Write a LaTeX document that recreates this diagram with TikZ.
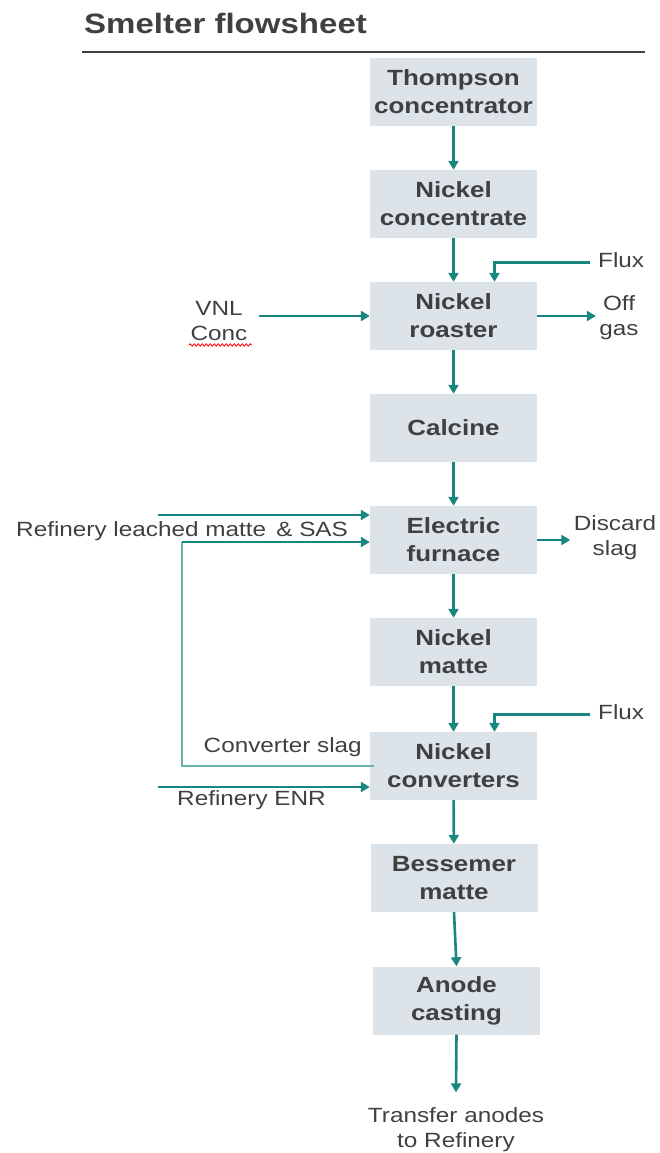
\documentclass[tikz,border=0pt]{standalone}
\usepackage{fontspec}
\setmainfont{Liberation Sans}[FakeStretch=1.18]
\usetikzlibrary{arrows.meta,decorations.pathmorphing}
\definecolor{flowteal}{RGB}{24,135,128}
\definecolor{slagteal}{RGB}{104,180,173}
\definecolor{boxgrey}{RGB}{220,227,233}
\definecolor{inkgrey}{RGB}{64,64,64}
\tikzset{
	unitbox/.style={fill=boxgrey,minimum width=167pt,minimum height=68pt,inner sep=0pt,align=center,text=inkgrey,font=\fontsize{22}{28}\selectfont\bfseries},
	streamtext/.style={text=inkgrey,align=center,font=\fontsize{20.6}{25}\selectfont},
	flow/.style={draw=flowteal,line width=2.6pt,-{Triangle[width=10pt,length=9pt]}},
}
\begin{document}
\begin{tikzpicture}[x=1pt,y=-1pt]
			\useasboundingbox (0,0) rectangle (660,1153);
			\node[anchor=base west,inner sep=0pt,text=inkgrey,font=\fontsize{28}{30}\selectfont\bfseries] (title) at (84,34) {Smelter flowsheet};
			\draw[inkgrey,line width=2.2pt] (82,52) -- (645,52);
			
			\node[unitbox] (thompson) at (453.5,92) {Thompson\\concentrator};
			\node[unitbox] (nickconc) at (453.5,204) {Nickel\\concentrate};
			\node[unitbox] (roaster) at (453.5,316) {Nickel\\roaster};
			\node[unitbox] (calcine) at (453.5,428) {Calcine};
			\node[unitbox] (furnace) at (453.5,540) {Electric\\furnace};
			\node[unitbox] (matte) at (453.5,652) {Nickel\\matte};
			\node[unitbox] (converters) at (453.5,766) {Nickel\\converters};
			\node[unitbox] (bessemer) at (454,878) {Bessemer\\matte};
			\node[unitbox] (anode) at (456.5,1000.5) {Anode\\casting};
			
			\node[streamtext,anchor=base west,inner sep=0pt] (flux1) at (598,267) {Flux};
			\node[streamtext] (vnl) at (219,321) {VNL\\Conc};
			\node[streamtext] (offgas) at (619,318) {Off\\gas};
			\node[streamtext,anchor=base west,inner sep=0pt] (leached) at (16,536) {Refinery leached matte \,\& SAS};
			\node[streamtext] (discard) at (615,538) {Discard\\slag};
			\node[streamtext,anchor=base west,inner sep=0pt] (flux2) at (598,719) {Flux};
			\node[streamtext,anchor=base east,inner sep=0pt] (cslag) at (362,752) {Converter slag};
			\node[streamtext,anchor=base west,inner sep=0pt] (enr) at (177,805) {Refinery ENR};
			\node[streamtext] (transfer) at (456,1130) {Transfer anodes\\to Refinery};
			
			\coordinate (leachedin) at (158,515);
			\coordinate (slagturn) at (182,542);
			\coordinate (enrin) at (158,787);
			
			\draw[flow] (thompson) -- (nickconc);
			\draw[flow] (nickconc) -- (roaster);
			\draw[flow] ([xshift=-8pt,yshift=-3pt]flux1.west) -| ([xshift=41pt]roaster.north);
			\draw[flow] ([xshift=8pt]vnl.east |- roaster) -- (roaster);
			\draw[flow] (roaster) -- (offgas.west |- roaster);
			\draw[flow] (roaster) -- (calcine);
			\draw[flow] (calcine) -- (furnace);
			\draw[flow] (leachedin) -- (leachedin -| furnace.west);
			\draw[slagteal,line width=2.8pt] ([xshift=4pt]converters.west) -| (slagturn);
			\draw[flow] (slagturn) -- (slagturn -| furnace.west);
			\draw[flow] (furnace) -- (discard.west |- furnace);
			\draw[flow] (furnace) -- (matte);
			\draw[flow] (matte) -- (converters);
			\draw[flow] ([xshift=-8pt,yshift=-3pt]flux2.west) -| ([xshift=41pt]converters.north);
			\draw[flow] (enrin) -- (enrin -| converters.west);
			\draw[flow] (converters) -- (bessemer);
			\draw[flow] (bessemer.south) -- (anode.north);
			\draw[flow] (anode.south) -- ([yshift=12pt]transfer.north);
			
			\draw[red,line width=0.8pt,decorate,decoration={snake,segment length=4pt,amplitude=1.2pt}] (189,345) -- (252,345);
		\end{tikzpicture}
\end{document}
